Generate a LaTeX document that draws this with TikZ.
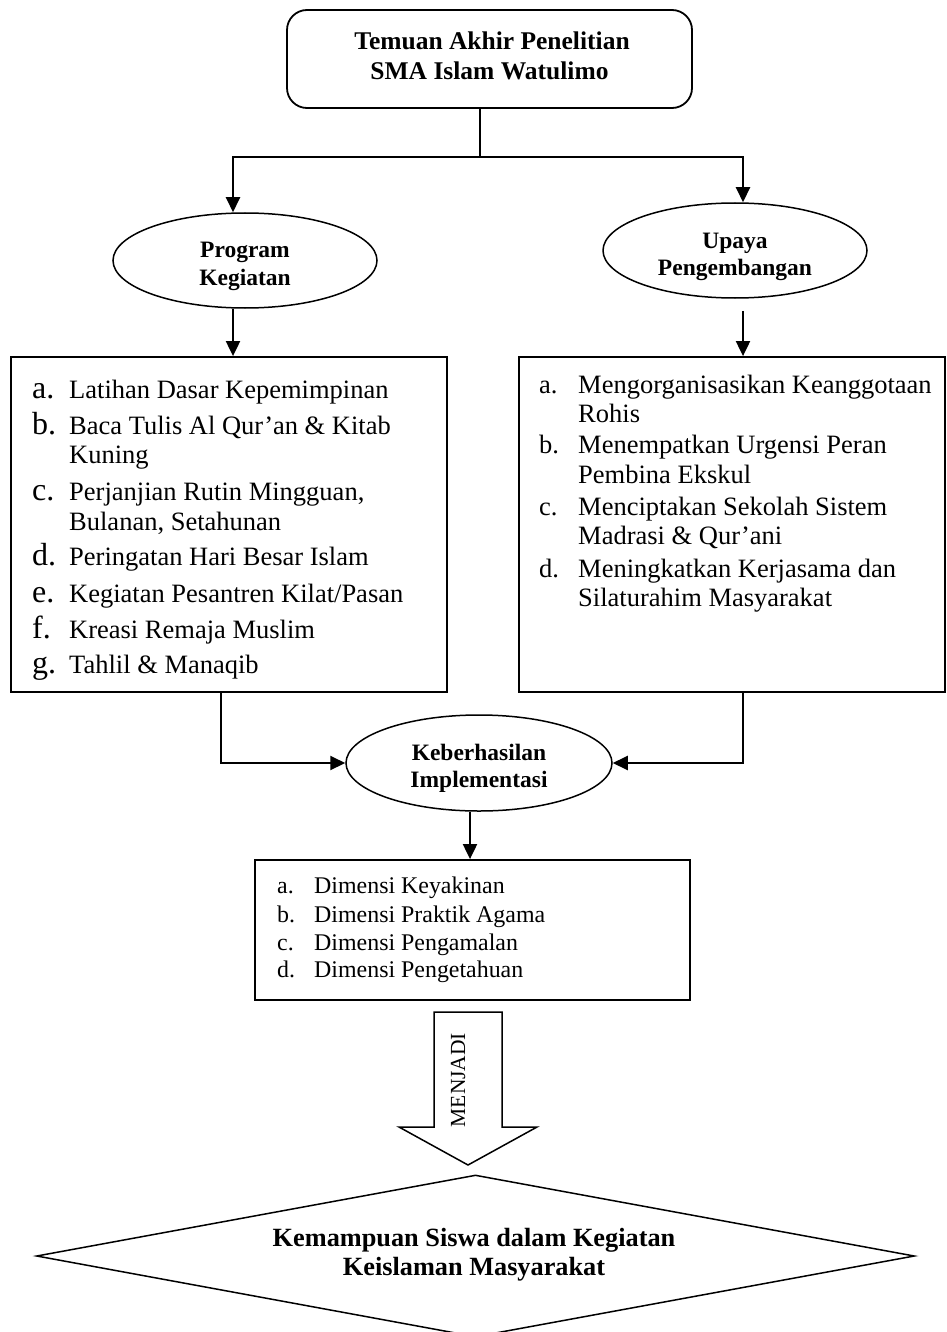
\documentclass[tikz,border=0pt]{standalone}
\usepackage{fontspec}
\setmainfont{Liberation Serif}
\usetikzlibrary{arrows.meta,shapes.geometric}

\begin{document}
\begin{tikzpicture}[x=1pt,y=-1pt,
  box/.style={draw,line width=1.8pt,inner sep=0pt},
  oval/.style={draw,ellipse,line width=1.5pt,inner sep=0pt,minimum width=264pt,minimum height=95pt},
  conn/.style={line width=2pt},
  arr/.style={line width=2pt,-{Triangle[length=15pt,width=14pt]}},
  hd/.style={font=\fontsize{25.5}{30}\selectfont\bfseries,anchor=base,inner sep=0pt},
  ovt/.style={font=\fontsize{23.5}{27}\selectfont\bfseries,anchor=base,inner sep=0pt},
  item/.style={font=\fontsize{26.5}{30}\selectfont,anchor=base west,inner sep=0pt},
  biglab/.style={font=\fontsize{32}{30}\selectfont,anchor=base west,inner sep=0pt},
  dim/.style={font=\fontsize{23.9}{28}\selectfont,anchor=base west,inner sep=0pt},
  dmt/.style={font=\fontsize{26.3}{30}\selectfont\bfseries,anchor=base,inner sep=0pt},
  turn/.style={font=\fontsize{21.5}{24}\selectfont,anchor=base,inner sep=0pt,rotate=90}
]
\path[fill=white] (0,0) rectangle (946,1332);
\useasboundingbox (0,0) rectangle (946,1332);

% heading box
\node[box,rounded corners=20pt,minimum width=405pt,minimum height=98pt] (top) at (489.5,59) {};
\node[hd] (top1) at (492,50) {Temuan Akhir Penelitian};
\node[hd] (top2) at (489.5,80) {SMA Islam Watulimo};

% ellipses
\node[oval] (pk) at (245,260.5) {};
\node[ovt] (pk1) at (245,258) {Program};
\node[ovt] (pk2) at (245,285) {Kegiatan};

\node[oval] (ud) at (735,250.5) {};
\node[ovt] (ud1) at (735,248) {Upaya};
\node[ovt] (ud2) at (735,275) {Pengembangan};

\node[oval,minimum width=266pt,minimum height=96pt] (ki) at (479,763) {};
\node[ovt] (ki1) at (479,760) {Keberhasilan};
\node[ovt] (ki2) at (479,787) {Implementasi};

% list boxes
\node[box,minimum width=436pt,minimum height=335pt] (lbox) at (229,524.5) {};
\node[box,minimum width=426pt,minimum height=335pt] (rbox) at (732,524.5) {};
\node[box,minimum width=435pt,minimum height=140pt] (dbox) at (472.5,930) {};

\foreach \y/\t [count=\i] in {398/a., 434/b., 500/c., 565/d., 602/e., 638/f., 673/g.}
  \node[biglab] (pl\i) at (32,\y) {\t};
\foreach \y/\t [count=\i] in {
  398/{Latihan Dasar Kepemimpinan},
  434/{Baca Tulis Al Qur’an \& Kitab},
  463/{Kuning},
  500/{Perjanjian Rutin Mingguan,},
  530/{Bulanan, Setahunan},
  565/{Peringatan Hari Besar Islam},
  602/{Kegiatan Pesantren Kilat/Pasan},
  638/{Kreasi Remaja Muslim},
  673/{Tahlil \& Manaqib}}
  \node[item] (pt\i) at (69,\y) {\t};

\foreach \y/\t [count=\i] in {393/a., 453/b., 515/c., 577/d.}
  \node[item] (ul\i) at (539,\y) {\t};
\foreach \y/\t [count=\i] in {
  393/{Mengorganisasikan Keanggotaan},
  422/{Rohis},
  453/{Menempatkan Urgensi Peran},
  483/{Pembina Ekskul},
  515/{Menciptakan Sekolah Sistem},
  544/{Madrasi \& Qur’ani},
  577/{Meningkatkan Kerjasama dan},
  606/{Silaturahim Masyarakat}}
  \node[item] (ut\i) at (578,\y) {\t};

\foreach \y/\l/\t [count=\i] in {
  893/a./{Dimensi Keyakinan},
  922/b./{Dimensi Praktik Agama},
  950/c./{Dimensi Pengamalan},
  977/d./{Dimensi Pengetahuan}} {
  \node[dim] (dl\i) at (277,\y) {\l};
  \node[dim] (dt\i) at (314,\y) {\t};
}

% block arrow
\draw[line width=1.5pt,line join=miter] (434,1012) -- (502,1012) -- (502,1127) -- (537,1127)
  -- (468,1165) -- (399,1127) -- (434,1127) -- cycle;
\node[turn] (mj) at (465,1080) {MENJADI};

% final diamond
\node[draw,diamond,line width=1.5pt,inner sep=0pt,minimum width=878pt,minimum height=162pt] (kss) at (475.5,1256) {};
\node[dmt] (kss1) at (474,1246) {Kemampuan Siswa dalam Kegiatan};
\node[dmt] (kss2) at (474,1275) {Keislaman Masyarakat};

% connectors
\coordinate (fork) at (480,157);
\coordinate (forkL) at (233,157);
\coordinate (forkR) at (743,157);
\coordinate (udOut) at ([yshift=-12pt]ud.south);
\coordinate (lDrop) at (221,0);
\coordinate (rDrop) at (743,0);
\coordinate (kDrop) at (470,0);

\draw[conn] (top.south -| fork) -- (fork);
\draw[arr] (fork) -| (forkL |- pk.north);
\draw[arr] (fork) -| (forkR |- ud.north);
\draw[arr] (forkL |- pk.south) -- (forkL |- lbox.north);
\draw[arr] (forkR |- udOut) -- (forkR |- rbox.north);
\draw[arr] (lDrop |- lbox.south) |- (ki.west);
\draw[arr] (rDrop |- rbox.south) |- (ki.east);
\draw[arr] (kDrop |- ki.south) -- (kDrop |- dbox.north);
\end{tikzpicture}
\end{document}
